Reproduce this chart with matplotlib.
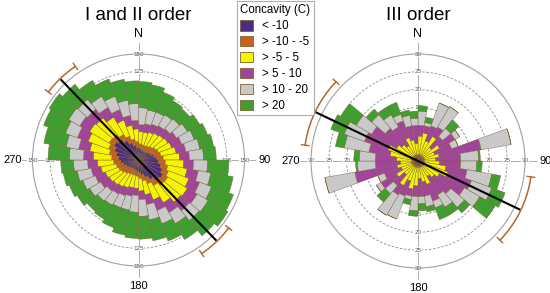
import numpy as np
import matplotlib
matplotlib.use("Agg")
import matplotlib.pyplot as plt
from matplotlib.patches import Patch

plt.rcParams['font.family'] = ['Liberation Sans', 'DejaVu Sans']

# ---------------- data ----------------
# bin centres (deg) of the 10-degree sectors 0-180; rose is bidirectional (axial data)
bin_centres = [5, 15, 25, 35, 45, 55, 65, 75, 85, 95, 105, 115, 125, 135, 145, 155, 165, 175]

classes = ["< -10", "> -10 - -5", "> -5 - 5", "> 5 - 10", "> 10 - 20", "> 20"]
colors = ["#4b2c7f", "#c8631f", "#f6f400", "#a3449b", "#c9c9c9", "#3f9e2f"]

# I and II order (counts per class, per bin)
o12_lt_m10 = [16, 15, 14, 14, 15, 17, 19, 22, 25, 28, 32, 36, 40, 38, 32, 26, 21, 18]
o12_m10_m5 = [7, 7, 8, 9, 10, 11, 11, 10, 10, 10, 10, 9, 8, 9, 10, 10, 9, 8]
o12_m5_5 = [17, 18, 20, 21, 21, 20, 20, 22, 23, 26, 28, 31, 32, 31, 28, 24, 20, 18]
o12_5_10 = [10, 12, 12, 12, 12, 14, 15, 14, 14, 14, 16, 16, 16, 16, 16, 16, 14, 12]
o12_10_20 = [24, 20, 18, 18, 18, 18, 19, 20, 20, 20, 18, 18, 18, 18, 18, 20, 22, 24]
o12_gt_20 = [37, 36, 30, 23, 19, 20, 20, 20, 18, 30, 32, 33, 32, 28, 26, 26, 30, 32]

# III order
o3_lt_m10 = [1.2, 1.2, 1.2, 1.2, 1.2, 1.2, 1.2, 1.2, 1.2, 1.2, 1.5, 1.5, 1.5, 1.2, 1.2, 1.2, 1.2, 1.2]
o3_m10_m5 = [0.6, 0.6, 0.6, 0.6, 0.6, 0.6, 0.6, 0.6, 0.6, 0.6, 0.5, 0.5, 0.5, 0.6, 0.6, 0.6, 0.6, 0.6]
o3_m5_5 = [5.2, 6.2, 4.2, 6.2, 3.2, 5.2, 3.2, 4.2, 3.2, 4.2, 6.0, 7.0, 5.0, 4.2, 3.2, 5.2, 4.2, 3.2]
o3_5_10 = [3.0, 2.0, 4.5, 3.0, 4.0, 5.0, 5.0, 12.0, 7.0, 6.0, 6.0, 7.0, 8.0, 6.0, 6.0, 5.0, 4.0, 5.0]
o3_10_20 = [4.0, 1.0, 6.8, 6.6, 3.0, 1.5, 2.0, 8.5, 5.0, 4.5, 7.0, 6.0, 5.0, 5.0, 4.0, 2.0, 3.0, 2.0]
o3_gt_20 = [1.5, 1.5, 0.0, 0.0, 3.0, 0.0, 0.0, 0.0, 0.5, 1.5, 2.5, 4.0, 5.0, 2.0, 2.5, 3.5, 1.5, 2.0]

# mean direction (deg) and confidence arcs (deg)
o12_mean = 316
o12_arc = (307, 326)
o3_mean = 295.5
o3_arc = (278, 314)

o12_rticks = [25, 50, 75, 100, 125, 150]
o3_rticks = [5, 10, 15, 20, 25, 30]

EDGE = "#7a6235"


def rose(ax, series, rticks, mean_dir, arc):
    rmax = rticks[-1]
    ax.set_theta_zero_location("N")
    ax.set_theta_direction(-1)
    ax.set_ylim(0, rmax)
    ax.set_xticks([])
    ax.set_yticks([])
    ax.grid(False)
    ax.spines['polar'].set_color('#a0a0a0')
    ax.spines['polar'].set_linewidth(0.8)
    ax.patch.set_alpha(0)

    full = np.linspace(0, 2 * np.pi, 361)
    for r in rticks[:-1]:
        ax.plot(full, np.full_like(full, r), ls=(0, (3, 2)), color='#8a8a8a', lw=0.6, zorder=1)
    # cross lines with radial labels
    for a in (0, 90, 180, 270):
        ax.plot([np.deg2rad(a)] * 2, [0, rmax * 1.1], color='#a0a0a0', lw=0.6, zorder=1, clip_on=False)
        for r in rticks:
            ax.text(np.deg2rad(a), r, str(r), fontsize=4.5, color='#555555', ha='center', va='center',
                    zorder=1.5, bbox=dict(fc='white', ec='none', pad=0.2), clip_on=False)
    for a, lab, fs in ((0, 'N', 9), (90, '90', 8), (180, '180', 8), (270, '270', 8)):
        ax.text(np.deg2rad(a), rmax * 1.19, lab, fontsize=fs, ha='center', va='center', clip_on=False)

    theta = np.deg2rad(np.array(bin_centres))
    width = np.deg2rad(10)
    for base in (0.0, np.pi):
        bottom = np.zeros(len(bin_centres))
        for vals, col in zip(series, colors):
            v = np.array(vals, dtype=float)
            ax.bar(theta + base, v, width=width, bottom=bottom, color=col, edgecolor=EDGE,
                   linewidth=0.3, zorder=3)
            bottom = bottom + v

    # mean direction line
    m = np.deg2rad(mean_dir)
    R = rmax * 1.05
    ax.plot([m, m, m + np.pi, m + np.pi], [R, 0, 0, R], color='black', lw=1.5, zorder=5, clip_on=False)
    # confidence arcs
    Ra = rmax * 1.065
    d = rmax * 0.035
    for off in (0, 180):
        a1, a2 = np.deg2rad(arc[0] + off), np.deg2rad(arc[1] + off)
        tt = np.linspace(a1, a2, 60)
        ax.plot(tt, np.full_like(tt, Ra), color='#b8662a', lw=1.1, zorder=5, clip_on=False)
        for a in (a1, a2):
            ax.plot([a, a], [Ra - d, Ra + d], color='#b8662a', lw=1.0, zorder=5, clip_on=False)


fig = plt.figure(figsize=(5.5, 2.93), dpi=100)
W, H = 550, 293


def add_polar(cx, cy, rad):
    return fig.add_axes([(cx - rad) / W, (H - cy - rad) / H, 2 * rad / W, 2 * rad / H], projection='polar')


ax1 = add_polar(138.5, 160, 106)
ax2 = add_polar(418, 161, 107)

rose(ax1, [o12_lt_m10, o12_m10_m5, o12_m5_5, o12_5_10, o12_10_20, o12_gt_20], o12_rticks, o12_mean, o12_arc)
rose(ax2, [o3_lt_m10, o3_m10_m5, o3_m5_5, o3_5_10, o3_10_20, o3_gt_20], o3_rticks, o3_mean, o3_arc)

fig.text(138.5 / W, 1 - 15 / H, 'I and II order', ha='center', va='center', fontsize=13.5)
fig.text(418 / W, 1 - 15 / H, 'III order', ha='center', va='center', fontsize=13.5)

handles = [Patch(facecolor=c, edgecolor=EDGE, linewidth=0.6) for c in colors]
leg = fig.legend(handles, classes, loc='upper left', bbox_to_anchor=(237 / W, 1 - 1 / H),
                 title='Concavity (C)', fontsize=8.3, title_fontsize=8.3, frameon=True,
                 fancybox=False, edgecolor='#999999', handlelength=1.1, handleheight=1.0,
                 handletextpad=0.8, labelspacing=0.33, borderpad=0.3, borderaxespad=0,
                 alignment='left')
leg.get_frame().set_linewidth(0.8)

fig.savefig('out.png', dpi=100)
